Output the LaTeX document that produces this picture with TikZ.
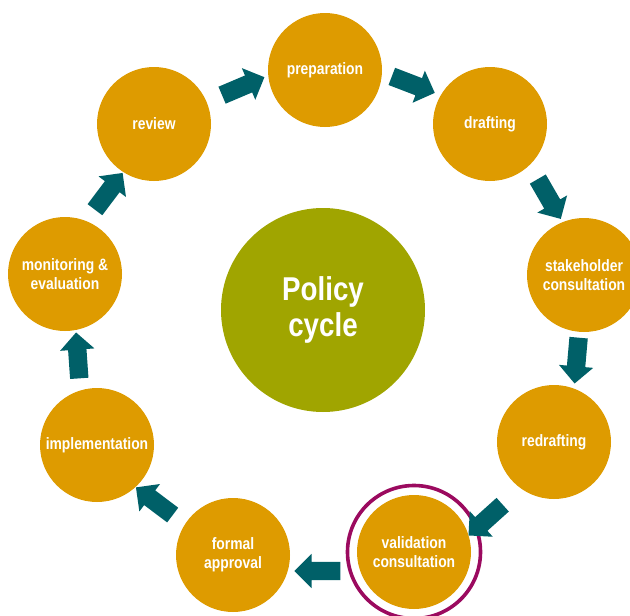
\documentclass[tikz,border=0pt]{standalone}
\usepackage{fontspec}
\setmainfont{Liberation Sans}[FakeStretch=0.84]
\usetikzlibrary{shapes.arrows}
\definecolor{orng}{RGB}{222,155,0}
\definecolor{olive}{RGB}{160,165,0}
\definecolor{tealc}{RGB}{0,96,104}
\definecolor{ringc}{RGB}{155,10,95}
\tikzset{
  stage/.style={circle, fill=orng, minimum size=114pt, inner sep=0pt, text=white,
    font=\bfseries\fontsize{16.5}{19}\selectfont, align=center},
  hub/.style={circle, fill=olive, minimum size=204pt, inner sep=0pt, text=white,
    font=\bfseries\fontsize{33}{36}\selectfont, align=center},
  blockarrow/.style={single arrow, fill=tealc, draw=none, minimum height=46pt,
    minimum width=34pt, inner sep=0pt, single arrow head extend=8pt,
    single arrow head indent=0pt, text height=18pt, shape border uses incircle=false},
  ring/.style={circle, draw=ringc, line width=3.6pt, minimum size=133pt, inner sep=0pt}
}
\begin{document}
\begin{tikzpicture}[x=1pt,y=-1pt]
\useasboundingbox (0,0) rectangle (630,616);
\begin{scope}
\clip (0,0) rectangle (630,616);
\node[hub] (hub) at (323,310) {Policy\\cycle};
\node[stage] (prep) at (325,70) {preparation};
\node[stage] (draft) at (490,124) {drafting};
\node[stage] (stake) at (584,275) {stakeholder\\consultation};
\node[stage] (redraft) at (554,442) {redrafting};
\node[ring] (valring) at (414,552) {};
\node[stage] (valid) at (414,552) {validation\\consultation};
\node[stage] (formal) at (233,555) {formal\\approval};
\node[stage] (impl) at (97,445) {implementation};
\node[stage] (monit) at (65,274) {monitoring \&\\evaluation};
\node[stage] (review) at (154,124) {review};
\node[blockarrow, rotate=23] (a1) at (239,88) {};
\node[blockarrow, rotate=-21] (a2) at (409,83) {};
\node[blockarrow, rotate=-60] (a3) at (547,195) {};
\node[blockarrow, rotate=-95] (a4) at (577,356) {};
\node[blockarrow, rotate=222] (a5) at (489,517) {};
\node[blockarrow, rotate=180] (a6) at (322,571) {};
\node[blockarrow, rotate=143] (a7) at (158,504) {};
\node[blockarrow, rotate=94] (a8) at (78,360) {};
\node[blockarrow, rotate=53] (a9) at (106,195) {};
\end{scope}
\end{tikzpicture}
\end{document}
